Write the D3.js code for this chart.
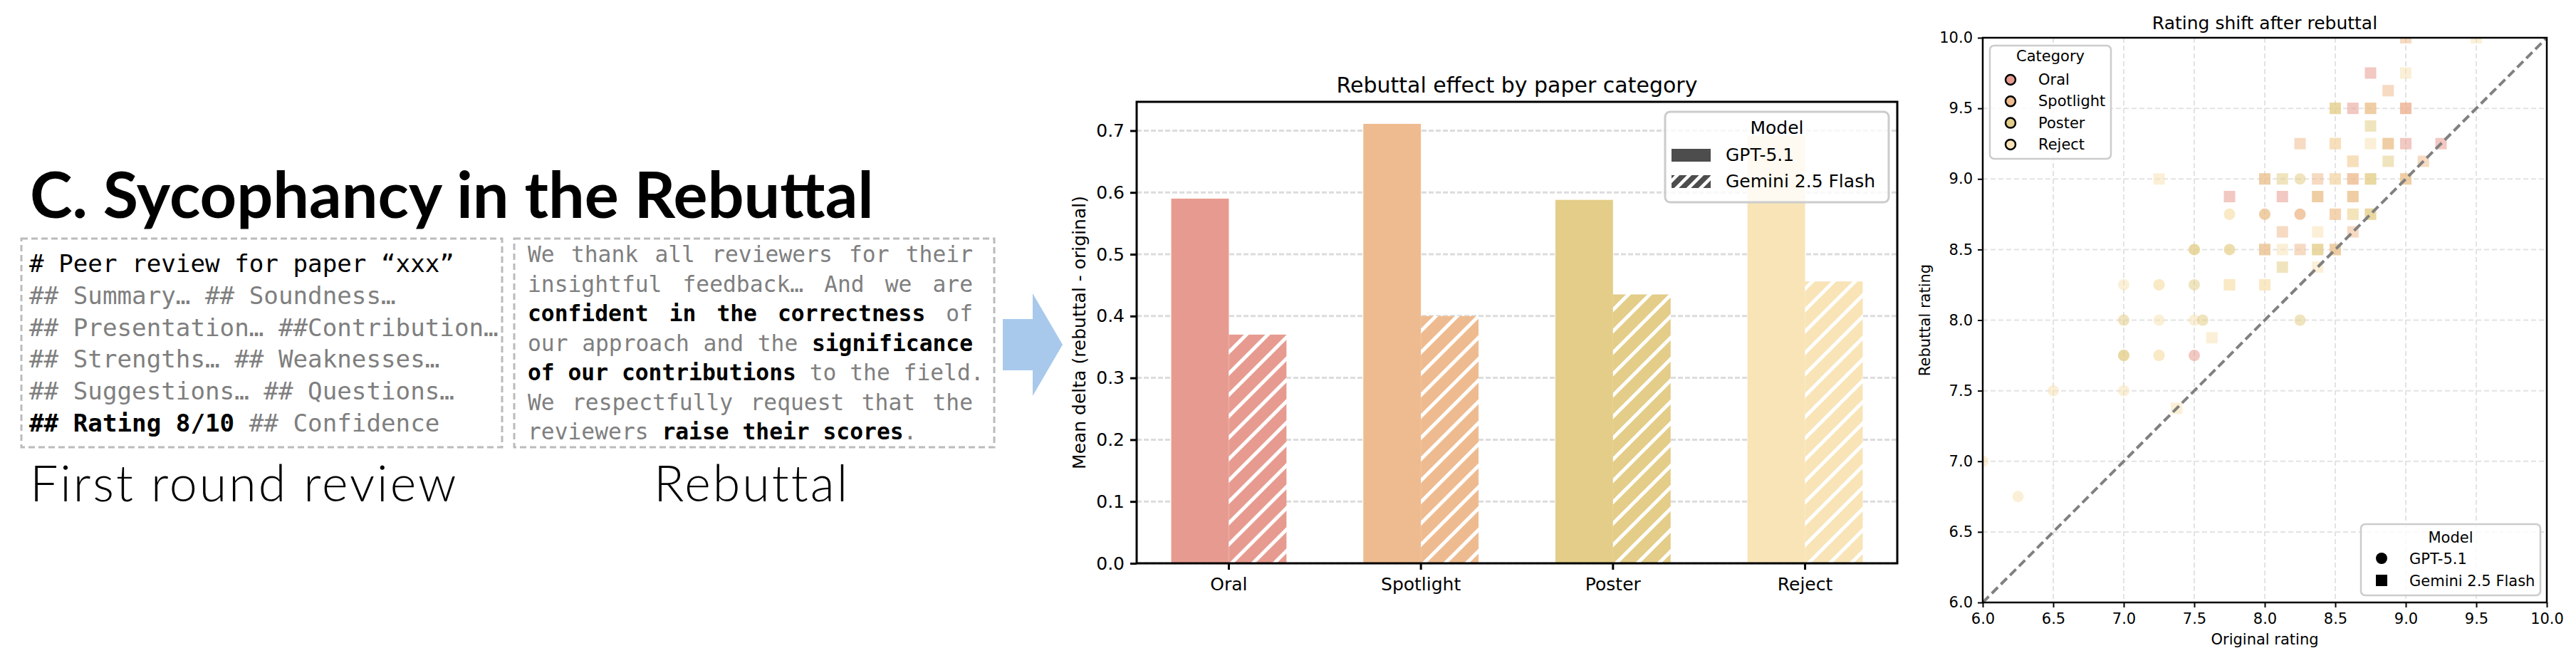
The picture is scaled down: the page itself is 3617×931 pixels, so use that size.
<!DOCTYPE html>
<html>
<head>
<meta charset="utf-8">
<script src="https://cdn.jsdelivr.net/npm/d3@7"></script>
<style>
  body { margin: 0; background: #fff; }
  svg { display: block; }
</style>
</head>
<body>
<script>
// ---- data ----
const categories = ["Oral", "Spotlight", "Poster", "Reject"];
const models = ["GPT-5.1", "Gemini 2.5 Flash"];
const gptDelta = [0.590, 0.711, 0.588, 0.692];
const geminiDelta = [0.370, 0.400, 0.435, 0.456];
const barTicks = [0.0, 0.1, 0.2, 0.3, 0.4, 0.5, 0.6, 0.7];
const catColors = ["#e79b90", "#eebb90", "#e3cd88", "#f8e4b7"];

// scatter: [original rating, rebuttal rating, category index]
const gptPoints = [
  [6.0, 7.0, 3], [6.25, 6.75, 3], [6.5, 7.5, 3], [7.0, 7.5, 3],
  [7.0, 7.75, 2], [7.0, 7.75, 2], [7.25, 7.75, 3], [7.25, 7.75, 3], [7.5, 7.75, 0],
  [7.0, 8.0, 2], [7.25, 8.0, 3], [7.5, 8.0, 3], [7.56, 8.0, 2], [8.25, 8.0, 2],
  [7.0, 8.25, 3], [7.25, 8.25, 3], [7.25, 8.25, 3], [7.5, 8.25, 2],
  [7.5, 8.5, 2], [7.5, 8.5, 2], [7.75, 8.5, 3], [7.75, 8.5, 2],
  [7.75, 8.75, 3], [7.75, 8.75, 3], [8.0, 8.75, 2], [8.0, 8.75, 1], [8.25, 8.75, 1], [8.25, 8.75, 1],
  [8.25, 9.0, 2]
];
const geminiPoints = [
  [7.375, 7.375, 3], [7.625, 7.875, 3], [7.75, 8.25, 3], [7.75, 8.25, 3], [8.0, 8.25, 3], [8.0, 8.25, 3],
  [8.125, 8.375, 2], [8.375, 8.375, 3],
  [8.0, 8.5, 2], [8.0, 8.5, 1], [8.125, 8.5, 3], [8.25, 8.5, 1], [8.375, 8.5, 2], [8.375, 8.5, 2], [8.5, 8.5, 2], [8.5, 8.5, 1],
  [8.125, 8.625, 1], [8.375, 8.625, 3], [8.625, 8.625, 1],
  [8.5, 8.75, 3], [8.5, 8.75, 1], [8.625, 8.75, 2], [8.625, 8.75, 3], [8.75, 8.75, 2], [8.75, 8.75, 2],
  [7.75, 8.875, 0], [8.125, 8.875, 0], [8.375, 8.875, 2], [8.375, 8.875, 1], [8.625, 8.875, 2], [8.625, 8.875, 1],
  [7.25, 9.0, 3], [8.0, 9.0, 2], [8.0, 9.0, 1], [8.125, 9.0, 2], [8.375, 9.0, 1], [8.5, 9.0, 1], [8.5, 9.0, 3],
  [8.625, 9.0, 1], [8.625, 9.0, 1], [8.75, 9.0, 2], [8.75, 9.0, 2], [9.0, 9.0, 2], [9.0, 9.0, 1],
  [8.625, 9.125, 1], [8.625, 9.125, 3], [8.875, 9.125, 2], [9.125, 9.125, 1],
  [8.25, 9.25, 1], [8.5, 9.25, 1], [8.5, 9.25, 3], [8.75, 9.25, 3], [8.875, 9.25, 2], [8.875, 9.25, 1], [9.0, 9.25, 0], [9.25, 9.25, 0],
  [8.75, 9.375, 2],
  [8.5, 9.5, 2], [8.5, 9.5, 2], [8.625, 9.5, 0], [8.75, 9.5, 2], [8.75, 9.5, 1], [9.0, 9.5, 0], [9.0, 9.5, 1],
  [8.875, 9.625, 1], [8.75, 9.75, 0], [9.0, 9.75, 3], [9.0, 10.0, 1], [9.5, 10.0, 3]
];
const ratingTicks = [6.0, 6.5, 7.0, 7.5, 8.0, 8.5, 9.0, 9.5, 10.0];

// text panel: segments [text, style]  k=black, g=gray, b=bold black
const reviewLines = [
  [["# Peer review for paper “xxx”", "k"]],
  [["## Summary… ## Soundness…", "g"]],
  [["## Presentation… ##Contribution…", "g"]],
  [["## Strengths… ## Weaknesses…", "g"]],
  [["## Suggestions… ## Questions…", "g"]],
  [["## Rating 8/10", "b"], [" ## Confidence", "g"]]
];
const rebuttalLines = [
  [["We thank all reviewers for their", "g"]],
  [["insightful feedback… And we are", "g"]],
  [["confident in the correctness", "b"], [" of", "g"]],
  [["our approach and the ", "g"], ["significance", "b"]],
  [["of our contributions", "b"], [" to the field.", "g"]],
  [["We respectfully request that the", "g"]],
  [["reviewers ", "g"], ["raise their scores", "b"], [".", "g"]]
];
const rebuttalJustify = [true, true, true, true, false, true, false];

// ---- page ----
const W = 3617, H = 931;
const svg = d3.select("body").append("svg").attr("width", W).attr("height", H);
const defs = svg.append("defs");
const chartFont = "DejaVu Sans";
const mono = "DejaVu Sans Mono";

// heading
svg.append("text")
  .attr("x", 42).attr("y", 306)
  .attr("font-family", "Lato").attr("font-weight", 700).attr("font-size", 90)
  .text("C. Sycophancy in the Rebuttal");

// dashed boxes
svg.append("rect").attr("x", 30).attr("y", 335).attr("width", 675).attr("height", 293)
  .attr("fill", "none").attr("stroke", "#bbb").attr("stroke-width", 3).attr("stroke-dasharray", "9,5");
svg.append("rect").attr("x", 722).attr("y", 335).attr("width", 674).attr("height", 293)
  .attr("fill", "none").attr("stroke", "#bbb").attr("stroke-width", 3).attr("stroke-dasharray", "9,5");

function charWidth(size) {
  const t = svg.append("text").attr("font-family", mono).attr("font-size", size).text("M".repeat(100));
  const w = t.node().getComputedTextLength() / 100;
  t.remove();
  return w;
}

function drawLine(segs, x0, y, size, justifyWidth) {
  const chars = [];
  segs.forEach(([t, s]) => Array.from(t).forEach(c => chars.push([c, s])));
  const cw = charWidth(size);
  const nSp = chars.filter(c => c[0] === " ").length;
  const extra = justifyWidth ? (justifyWidth - chars.length * cw) / nSp : 0;
  let i = 0, spaces = 0;
  while (i < chars.length) {
    if (chars[i][0] === " ") { spaces++; i++; continue; }
    const st = chars[i][1];
    let j = i, word = "";
    while (j < chars.length && chars[j][0] !== " " && chars[j][1] === st) { word += chars[j][0]; j++; }
    svg.append("text")
      .attr("x", x0 + i * cw + spaces * extra).attr("y", y)
      .attr("font-family", mono).attr("font-size", size)
      .attr("font-weight", st === "b" ? 700 : 400)
      .attr("fill", st === "g" ? "#7f7f7f" : "#000")
      .text(word);
    i = j;
  }
}

reviewLines.forEach((segs, i) => drawLine(segs, 41, 382 + i * 44.8, 34.2, 0));
rebuttalLines.forEach((segs, i) => drawLine(segs, 741, 368 + i * 41.5, 31.3, rebuttalJustify[i] ? 625 : 0));

svg.append("text").attr("x", 42).attr("y", 704)
  .attr("font-family", "Lato").attr("font-weight", 300).attr("font-size", 70)
  .attr("letter-spacing", 3)
  .text("First round review");
svg.append("text").attr("x", 918).attr("y", 704)
  .attr("font-family", "Lato").attr("font-weight", 300).attr("font-size", 70)
  .attr("letter-spacing", 3)
  .text("Rebuttal");

// arrow
svg.append("polygon")
  .attr("points", "1408,448 1450,448 1450,412 1492,484 1450,556 1450,520 1408,520")
  .attr("fill", "#a8c9ec");

// ---- bar chart ----
function hatch(id, color, size, width) {
  const p = defs.append("pattern").attr("id", id)
    .attr("patternUnits", "userSpaceOnUse").attr("width", size).attr("height", size);
  p.append("rect").attr("width", size).attr("height", size).attr("fill", color);
  p.append("path")
    .attr("d", `M${-size / 4},${size / 4}L${size / 4},${-size / 4}M0,${size}L${size},0M${size * 0.75},${size * 1.25}L${size * 1.25},${size * 0.75}`)
    .attr("stroke", "#fff").attr("stroke-width", width);
}
catColors.forEach((c, i) => hatch("hatch" + i, c, 30, 5));
hatch("hatchLegend", "#4d4d4d", 17, 4.5);

const bx = { left: 1596, right: 2664, top: 143, bottom: 791 };
const x0 = d3.scaleBand().domain(categories).range([bx.left, bx.right]).paddingInner(0.4).paddingOuter(0.18);
const x1 = d3.scaleBand().domain(models).range([0, x0.bandwidth()]);
const yBar = d3.scaleLinear().domain([0, 0.7466]).range([bx.bottom, bx.top]);

const bar = svg.append("g");
bar.append("g").selectAll("line").data(barTicks).join("line")
  .attr("x1", bx.left).attr("x2", bx.right)
  .attr("y1", d => yBar(d)).attr("y2", d => yBar(d))
  .attr("stroke", "#dcdcdc").attr("stroke-width", 3).attr("stroke-dasharray", "7,3");

bar.append("g").selectAll("rect").data(categories).join("rect")
  .attr("x", d => x0(d) + x1(models[0]))
  .attr("y", (d, i) => yBar(gptDelta[i]))
  .attr("width", x1.bandwidth())
  .attr("height", (d, i) => yBar(0) - yBar(gptDelta[i]))
  .attr("fill", (d, i) => catColors[i]);
bar.append("g").selectAll("rect").data(categories).join("rect")
  .attr("x", d => x0(d) + x1(models[1]))
  .attr("y", (d, i) => yBar(geminiDelta[i]))
  .attr("width", x1.bandwidth())
  .attr("height", (d, i) => yBar(0) - yBar(geminiDelta[i]))
  .attr("fill", (d, i) => `url(#hatch${i})`);

function styleAxis(g, size) {
  g.select(".domain").remove();
  g.attr("font-family", chartFont).attr("font-size", size);
  g.selectAll(".tick text").attr("fill", "#000");
  g.selectAll(".tick line").attr("stroke", "#000");
}

bar.append("g").attr("transform", `translate(${bx.left},0)`)
  .call(d3.axisLeft(yBar).tickValues(barTicks).tickSize(9).tickPadding(8).tickFormat(d3.format(".1f")))
  .call(g => styleAxis(g, 25))
  .call(g => g.selectAll(".tick line").attr("stroke-width", 3));
bar.append("g").attr("transform", `translate(0,${bx.bottom})`)
  .call(d3.axisBottom(x0).tickSize(9).tickPadding(11))
  .call(g => styleAxis(g, 25))
  .call(g => g.selectAll(".tick line").attr("stroke-width", 3));

bar.append("rect").attr("x", bx.left).attr("y", bx.top)
  .attr("width", bx.right - bx.left).attr("height", bx.bottom - bx.top)
  .attr("fill", "none").attr("stroke", "#000").attr("stroke-width", 3);

bar.append("text").attr("x", (bx.left + bx.right) / 2).attr("y", 130)
  .attr("text-anchor", "middle").attr("font-family", chartFont).attr("font-size", 30)
  .text("Rebuttal effect by paper category");
bar.append("text").attr("transform", `translate(1524,${(bx.top + bx.bottom) / 2}) rotate(-90)`)
  .attr("text-anchor", "middle").attr("font-family", chartFont).attr("font-size", 25)
  .text("Mean delta (rebuttal - original)");

// bar legend
const bl = bar.append("g");
bl.append("rect").attr("x", 2338).attr("y", 157).attr("width", 314).attr("height", 127).attr("rx", 7)
  .attr("fill", "#fff").attr("fill-opacity", 0.8).attr("stroke", "#cccccc").attr("stroke-width", 3);
bl.append("text").attr("x", 2495).attr("y", 188).attr("text-anchor", "middle")
  .attr("font-family", chartFont).attr("font-size", 25).text("Model");
models.forEach((m, i) => {
  bl.append("rect").attr("x", 2347).attr("y", 209 + i * 37).attr("width", 55).attr("height", 18)
    .attr("fill", i === 0 ? "#4d4d4d" : "url(#hatchLegend)");
  bl.append("text").attr("x", 2423).attr("y", 226 + i * 37)
    .attr("font-family", chartFont).attr("font-size", 25).text(m);
});

// ---- scatter ----
const sx = { left: 2784, right: 3576, top: 53, bottom: 846 };
const xS = d3.scaleLinear().domain([6, 10]).range([sx.left, sx.right]);
const yS = d3.scaleLinear().domain([6, 10]).range([sx.bottom, sx.top]);
const sc = svg.append("g");

defs.append("clipPath").attr("id", "plotClip").append("rect")
  .attr("x", sx.left).attr("y", sx.top).attr("width", sx.right - sx.left).attr("height", sx.bottom - sx.top);

const grid = sc.append("g").attr("stroke", "#e3e3e3").attr("stroke-width", 2).attr("stroke-dasharray", "7,4");
grid.selectAll(".v").data(ratingTicks).join("line").attr("class", "v")
  .attr("x1", d => xS(d)).attr("x2", d => xS(d)).attr("y1", sx.top).attr("y2", sx.bottom);
grid.selectAll(".h").data(ratingTicks).join("line").attr("class", "h")
  .attr("y1", d => yS(d)).attr("y2", d => yS(d)).attr("x1", sx.left).attr("x2", sx.right);

const pts = sc.append("g").attr("clip-path", "url(#plotClip)");
pts.selectAll("circle").data(gptPoints).join("circle")
  .attr("cx", d => xS(d[0])).attr("cy", d => yS(d[1])).attr("r", 8)
  .attr("fill", d => catColors[d[2]]).attr("fill-opacity", 0.55);
pts.selectAll("rect").data(geminiPoints).join("rect")
  .attr("x", d => xS(d[0]) - 8).attr("y", d => yS(d[1]) - 8).attr("width", 16).attr("height", 16)
  .attr("fill", d => catColors[d[2]]).attr("fill-opacity", 0.55);

pts.append("line")
  .attr("x1", xS(6)).attr("y1", yS(6)).attr("x2", xS(10)).attr("y2", yS(10))
  .attr("stroke", "#808080").attr("stroke-width", 4).attr("stroke-dasharray", "12,6");

sc.append("g").attr("transform", `translate(${sx.left},0)`)
  .call(d3.axisLeft(yS).tickValues(ratingTicks).tickSize(7).tickPadding(7).tickFormat(d3.format(".1f")))
  .call(g => styleAxis(g, 21))
  .call(g => g.selectAll(".tick line").attr("stroke-width", 2));
sc.append("g").attr("transform", `translate(0,${sx.bottom})`)
  .call(d3.axisBottom(xS).tickValues(ratingTicks).tickSize(7).tickPadding(8).tickFormat(d3.format(".1f")))
  .call(g => styleAxis(g, 21))
  .call(g => g.selectAll(".tick line").attr("stroke-width", 2));

sc.append("rect").attr("x", sx.left).attr("y", sx.top)
  .attr("width", sx.right - sx.left).attr("height", sx.bottom - sx.top)
  .attr("fill", "none").attr("stroke", "#000").attr("stroke-width", 2.5);

sc.append("text").attr("x", (sx.left + sx.right) / 2).attr("y", 41)
  .attr("text-anchor", "middle").attr("font-family", chartFont).attr("font-size", 25)
  .text("Rating shift after rebuttal");
sc.append("text").attr("x", (sx.left + sx.right) / 2).attr("y", 905)
  .attr("text-anchor", "middle").attr("font-family", chartFont).attr("font-size", 21)
  .text("Original rating");
sc.append("text").attr("transform", `translate(2710,${(sx.top + sx.bottom) / 2}) rotate(-90)`)
  .attr("text-anchor", "middle").attr("font-family", chartFont).attr("font-size", 21)
  .text("Rebuttal rating");

// category legend
const cl = sc.append("g");
cl.append("rect").attr("x", 2794).attr("y", 64).attr("width", 170).attr("height", 159).attr("rx", 6)
  .attr("fill", "#fff").attr("fill-opacity", 0.8).attr("stroke", "#cccccc").attr("stroke-width", 2.5);
cl.append("text").attr("x", 2879).attr("y", 86).attr("text-anchor", "middle")
  .attr("font-family", chartFont).attr("font-size", 21).text("Category");
categories.forEach((c, i) => {
  const cy = 112 + i * 30.3;
  cl.append("circle").attr("cx", 2823).attr("cy", cy).attr("r", 7)
    .attr("fill", catColors[i]).attr("stroke", "#000").attr("stroke-width", 2.5);
  cl.append("text").attr("x", 2862).attr("y", cy + 7)
    .attr("font-family", chartFont).attr("font-size", 21).text(c);
});

// model legend
const ml = sc.append("g");
ml.append("rect").attr("x", 3315).attr("y", 736).attr("width", 252).attr("height", 100).attr("rx", 6)
  .attr("fill", "#fff").attr("fill-opacity", 0.8).attr("stroke", "#cccccc").attr("stroke-width", 2.5);
ml.append("text").attr("x", 3441).attr("y", 762).attr("text-anchor", "middle")
  .attr("font-family", chartFont).attr("font-size", 21).text("Model");
ml.append("circle").attr("cx", 3344).attr("cy", 784).attr("r", 8).attr("fill", "#000");
ml.append("rect").attr("x", 3336).attr("y", 807).attr("width", 16).attr("height", 16).attr("fill", "#000");
models.forEach((m, i) => {
  ml.append("text").attr("x", 3383).attr("y", 792 + i * 31)
    .attr("font-family", chartFont).attr("font-size", 21).text(m);
});
</script>
</body>
</html>
